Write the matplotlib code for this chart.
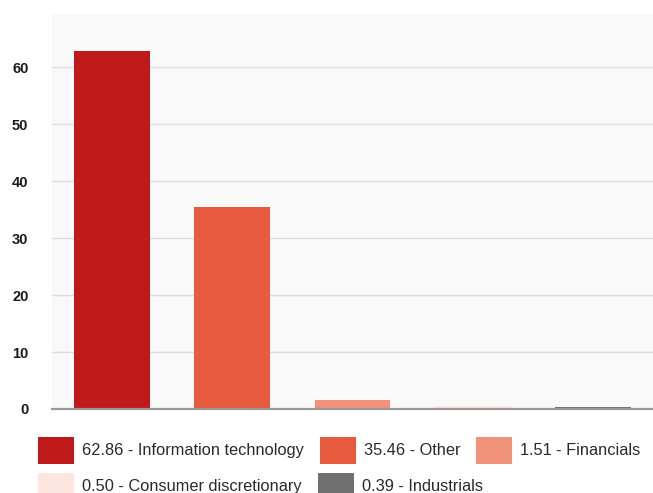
import matplotlib
matplotlib.use("Agg")
import matplotlib.pyplot as plt
from matplotlib.patches import Rectangle

sectors = ["Information technology", "Other", "Financials",
           "Consumer discretionary", "Industrials"]
weights = [62.86, 35.46, 1.51, 0.50, 0.39]
colors = ["#c0191a", "#e85a3e", "#f0937a", "#fde6e0", "#707070"]
yticks = [0, 10, 20, 30, 40, 50, 60]

plt.rcParams["font.family"] = ["Liberation Sans", "DejaVu Sans"]

W, H = 653, 493
fig = plt.figure(figsize=(W / 100, H / 100), dpi=100)
ax = fig.add_axes([52 / W, 1 - 409 / H, 1 - 52 / W, (409 - 14) / H])
ax.set_facecolor("#f9f9f9")

x = list(range(len(sectors)))
ax.bar(x, weights, width=0.63, color=colors, zorder=3)

ax.set_xlim(-0.5, len(sectors) - 0.5)
ax.set_ylim(0, 69.3)
ax.set_yticks(yticks)
ax.set_yticklabels([str(t) for t in yticks], fontweight="bold")
ax.tick_params(axis="y", length=0, pad=17, labelsize=10.5, labelcolor="#1a1a1a")
ax.set_xticks([])
ax.yaxis.grid(True, color="#dddddd", linewidth=1, zorder=0)
for side in ("top", "right", "left"):
    ax.spines[side].set_visible(False)
ax.spines["bottom"].set_color("#999999")
ax.spines["bottom"].set_linewidth(1.6)
ax.spines["bottom"].set_zorder(4)

# legend as a wrapping flow of swatch + label items (pixel layout)
labels = [f"{v:.2f} - {s}" for v, s in zip(weights, sectors)]
renderer = fig.canvas.get_renderer()
sw_w, sw_h = 36, 27
text_gap, item_gap = 8, 16
x0, row_top, row_step = 38, 437, 36
cx, cy = x0, row_top
for color, label in zip(colors, labels):
    t = fig.text(0, 0, label, fontsize=11.8, color="#2a2a2a",
                 va="center", ha="left")
    tw = t.get_window_extent(renderer).width
    if cx + sw_w + text_gap + tw > W - 5 and cx > x0:
        cx = x0
        cy += row_step
    fig.add_artist(Rectangle((cx / W, 1 - (cy + sw_h) / H), sw_w / W, sw_h / H,
                             transform=fig.transFigure, facecolor=color,
                             edgecolor="none"))
    t.set_position(((cx + sw_w + text_gap) / W, 1 - (cy + sw_h / 2) / H))
    cx += sw_w + text_gap + tw + item_gap

fig.savefig("out.png", dpi=100)
